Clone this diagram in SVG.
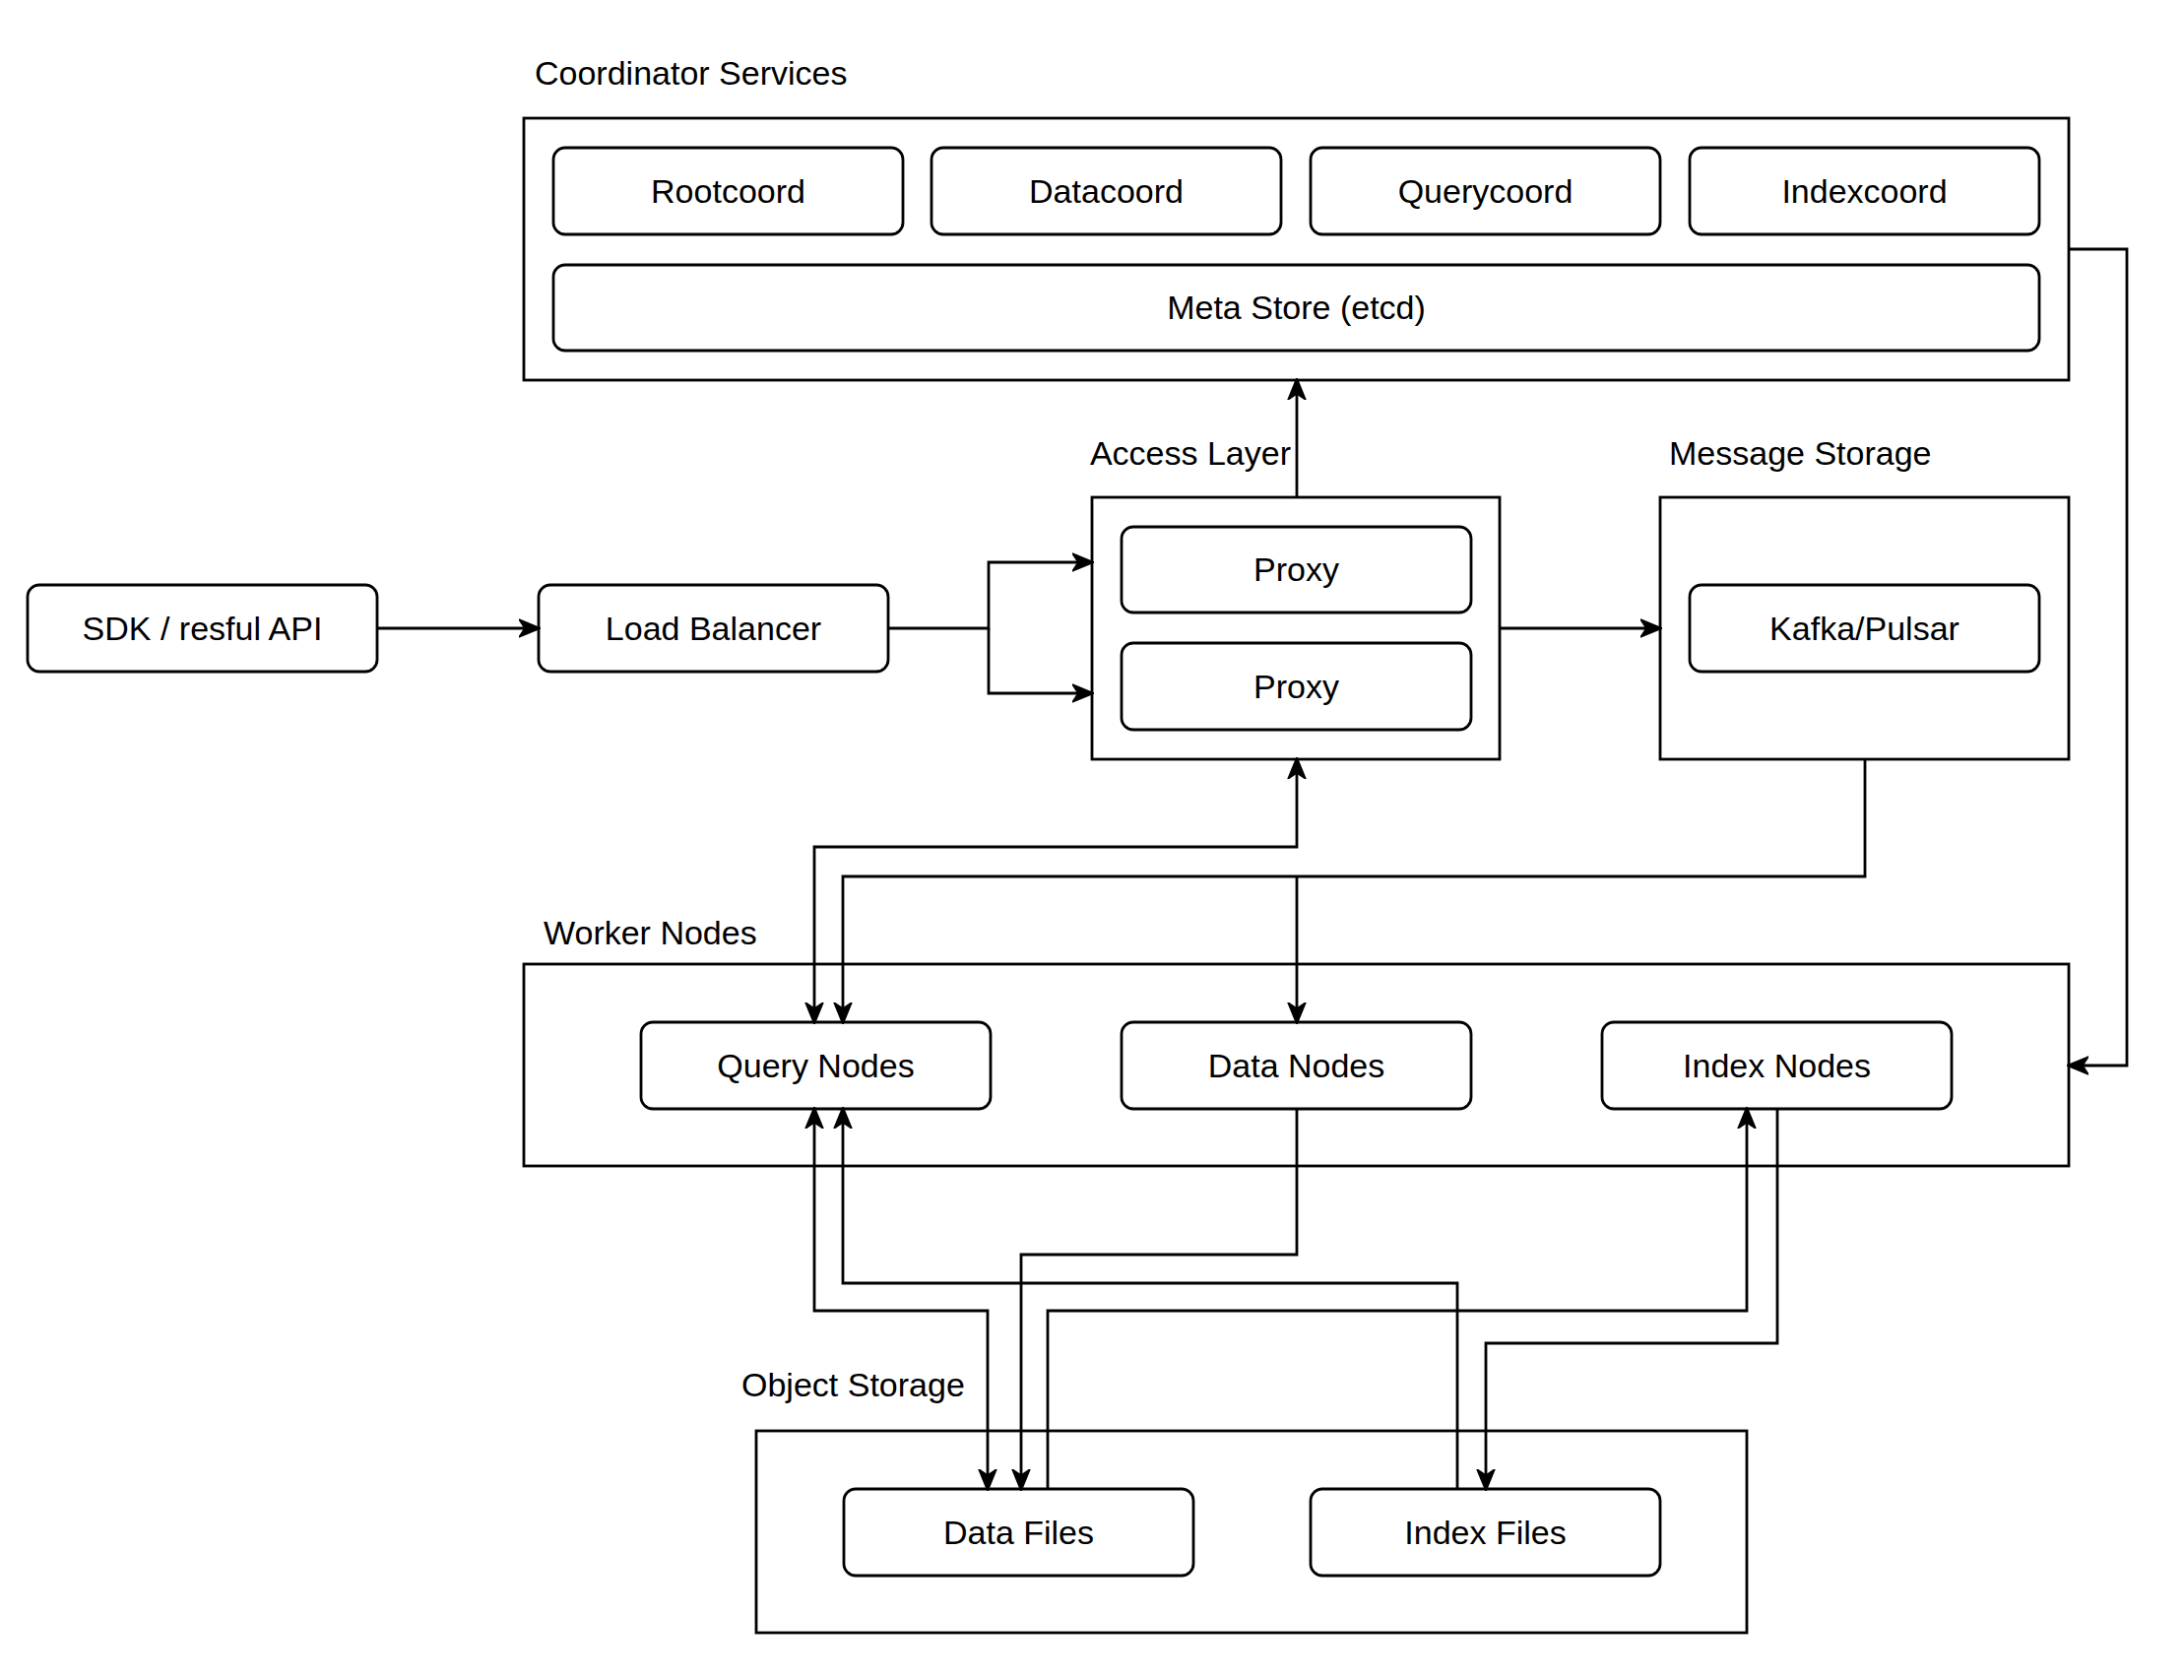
<svg xmlns="http://www.w3.org/2000/svg" width="2218" height="1706" viewBox="0 0 2218 1706">
<style>
.c{fill:#fff;stroke:#000;stroke-width:2.8}
.n rect{fill:#fff;stroke:#000;stroke-width:2.8}
text{font-family:"Liberation Sans",Arial,sans-serif;font-size:34px;fill:#000}
.m{text-anchor:middle;dominant-baseline:central}
.e path{fill:none;stroke:#000;stroke-width:2.8}
</style>
<defs>
<marker id="a" viewBox="0 0 22 22" refX="20" refY="11" markerWidth="22" markerHeight="22" orient="auto-start-reverse" markerUnits="userSpaceOnUse">
<path d="M0,2 L22,11 L0,20 L6,11 Z" fill="#000" stroke="#000" stroke-width="1.5" stroke-linejoin="miter"/>
</marker>
</defs>
<rect width="2218" height="1706" fill="#fff"/>
<g id="coordinator">
<rect class="c" x="532" y="120" width="1569" height="266"/>
<text x="543" y="86">Coordinator Services</text>
</g>
<g id="rootcoord" class="n"><rect x="562" y="150" width="355" height="88" rx="12"/><text class="m" x="739.5" y="194">Rootcoord</text></g>
<g id="datacoord" class="n"><rect x="946" y="150" width="355" height="88" rx="12"/><text class="m" x="1123.5" y="194">Datacoord</text></g>
<g id="querycoord" class="n"><rect x="1331" y="150" width="355" height="88" rx="12"/><text class="m" x="1508.5" y="194">Querycoord</text></g>
<g id="indexcoord" class="n"><rect x="1716" y="150" width="355" height="88" rx="12"/><text class="m" x="1893.5" y="194">Indexcoord</text></g>
<g id="metastore" class="n"><rect x="562" y="269" width="1509" height="87" rx="12"/><text class="m" x="1316.5" y="312">Meta Store (etcd)</text></g>
<g id="access">
<rect class="c" x="1109" y="505" width="414" height="266"/>
<text x="1311" y="472" text-anchor="end">Access Layer</text>
</g>
<g id="proxy1" class="n"><rect x="1139" y="535" width="355" height="87" rx="12"/><text class="m" x="1316.5" y="578">Proxy</text></g>
<g id="proxy2" class="n"><rect x="1139" y="653" width="355" height="88" rx="12"/><text class="m" x="1316.5" y="697">Proxy</text></g>
<g id="message">
<rect class="c" x="1686" y="505" width="415" height="266"/>
<text x="1695" y="472">Message Storage</text>
</g>
<g id="kafka" class="n"><rect x="1716" y="594" width="355" height="88" rx="12"/><text class="m" x="1893.5" y="638">Kafka/Pulsar</text></g>
<g id="sdk" class="n"><rect x="28" y="594" width="355" height="88" rx="12"/><text class="m" x="205.5" y="638">SDK / resful API</text></g>
<g id="lb" class="n"><rect x="547" y="594" width="355" height="88" rx="12"/><text class="m" x="724.5" y="638">Load Balancer</text></g>
<g id="worker">
<rect class="c" x="532" y="979" width="1569" height="205"/>
<text x="552" y="959">Worker Nodes</text>
</g>
<g id="querynodes" class="n"><rect x="651" y="1038" width="355" height="88" rx="12"/><text class="m" x="828.5" y="1082">Query Nodes</text></g>
<g id="datanodes" class="n"><rect x="1139" y="1038" width="355" height="88" rx="12"/><text class="m" x="1316.5" y="1082">Data Nodes</text></g>
<g id="indexnodes" class="n"><rect x="1627" y="1038" width="355" height="88" rx="12"/><text class="m" x="1804.5" y="1082">Index Nodes</text></g>
<g id="object">
<rect class="c" x="768" y="1453" width="1006" height="205"/>
<text x="753" y="1418">Object Storage</text>
</g>
<g id="datafiles" class="n"><rect x="857" y="1512" width="355" height="88" rx="12"/><text class="m" x="1034.5" y="1556">Data Files</text></g>
<g id="indexfiles" class="n"><rect x="1331" y="1512" width="355" height="88" rx="12"/><text class="m" x="1508.5" y="1556">Index Files</text></g>
<g id="connectors" class="e">
<path d="M383,638 H547" marker-end="url(#a)"/>
<path d="M902,638 H1004 V571 H1109" marker-end="url(#a)"/>
<path d="M1004,638 V704 H1109" marker-end="url(#a)"/>
<path d="M1317,505 V386" marker-end="url(#a)"/>
<path d="M1523,638 H1686" marker-end="url(#a)"/>
<path d="M2101,253 H2160 V1082 H2101" marker-end="url(#a)"/>
<path d="M1317,771 V860 H827 V1038" marker-start="url(#a)" marker-end="url(#a)"/>
<path d="M1894,771 V890 H856 V1038" marker-end="url(#a)"/>
<path d="M1317,890 V1038" marker-end="url(#a)"/>
<path d="M827,1126 V1331 H1003 V1512" marker-start="url(#a)" marker-end="url(#a)"/>
<path d="M1480,1512 V1303 H856 V1126" marker-end="url(#a)"/>
<path d="M1317,1126 V1274 H1037 V1512" marker-end="url(#a)"/>
<path d="M1064,1512 V1331 H1774 V1126" marker-end="url(#a)"/>
<path d="M1805,1126 V1364 H1509 V1512" marker-end="url(#a)"/>
</g>
</svg>
